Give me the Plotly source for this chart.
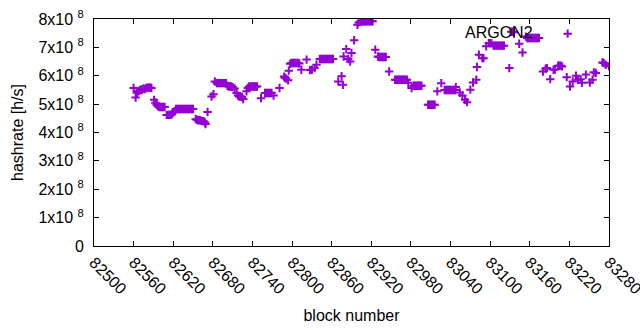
import plotly.graph_objects as go

# block numbers and hashrates (h/s)
blocks = [
    82560, 82563, 82565, 82567, 82569, 82571, 82573, 82575, 82577, 82579, 82581, 82583, 82585, 82587,
    82591, 82593, 82595, 82597, 82599, 82601, 82603, 82605, 82607,
    82610, 82612, 82614, 82616, 82618, 82620, 82622,
    82624, 82626, 82628, 82630, 82632, 82634, 82636, 82638, 82640, 82642, 82644, 82646, 82648, 82650,
    82654, 82656, 82658, 82660, 82662, 82664, 82666, 82668, 82669, 82672,
    82678, 82681, 82683, 82686, 82688, 82690, 82692, 82694, 82696, 82698, 82700,
    82702, 82704, 82706, 82708, 82710, 82713, 82716, 82718, 82720, 82722, 82724, 82726,
    82731, 82733, 82735, 82737, 82739, 82741, 82743, 82745, 82747,
    82753, 82759, 82761, 82763, 82765, 82767, 82769, 82772, 82781,
    82788, 82789, 82791, 82794, 82795,
    82797, 82799, 82801, 82803, 82805, 82807, 82809, 82811,
    82814, 82822, 82827, 82830, 82834, 82837,
    82842, 82844, 82846, 82848, 82850, 82852, 82854, 82856, 82858, 82860, 82862,
    82870, 82875, 82877, 82878, 82882, 82885, 82888, 82890, 82894, 82899, 82901,
    82904, 82906, 82908, 82910, 82912, 82914, 82916, 82918, 82920, 82922,
    82926, 82930, 82932, 82934, 82936, 82938, 82940, 82942,
    82947, 82956, 82958, 82960, 82962, 82964, 82966, 82968, 82970, 82972, 82974,
    82976, 82981, 82984, 82986, 82988, 82990, 82992, 82994, 82996,
    83006, 83008, 83010, 83012, 83014, 83016,
    83020, 83026, 83031, 83033, 83035, 83037, 83039, 83041, 83043, 83045, 83047,
    83048, 83054, 83058, 83062, 83065, 83070, 83074, 83079, 83080, 83083,
    83088, 83090, 83094, 83098, 83100, 83102,
    83105, 83107, 83109, 83111, 83113, 83115, 83117, 83119, 83121,
    83129, 83132, 83134, 83136, 83144, 83149, 83154,
    83156, 83158, 83160, 83162, 83164, 83166, 83168, 83170, 83172, 83174,
    83180, 83184, 83186, 83191, 83196, 83198, 83203, 83205, 83207, 83209,
    83216, 83221, 83225, 83230, 83233, 83237, 83239, 83245, 83251, 83255, 83257, 83260,
    83270, 83272, 83275, 83280,
]

hashrate = [
    5.57e8, 5.23e8, 5.40e8, 5.45e8, 5.48e8, 5.52e8, 5.50e8, 5.55e8, 5.53e8, 5.57e8, 5.58e8, 5.58e8, 5.58e8, 5.57e8,
    5.15e8, 5.05e8, 4.97e8, 4.92e8, 4.90e8, 4.90e8, 4.90e8, 4.90e8, 4.90e8,
    4.62e8, 4.62e8, 4.62e8, 4.62e8, 4.65e8, 4.70e8, 4.75e8,
    4.83e8, 4.83e8, 4.83e8, 4.83e8, 4.83e8, 4.83e8, 4.83e8, 4.83e8, 4.83e8, 4.83e8, 4.83e8, 4.83e8, 4.83e8, 4.83e8,
    4.47e8, 4.45e8, 4.43e8, 4.43e8, 4.42e8, 4.40e8, 4.40e8, 4.35e8, 4.30e8, 4.72e8,
    5.27e8, 5.35e8, 5.80e8, 5.74e8, 5.74e8, 5.74e8, 5.74e8, 5.74e8, 5.74e8, 5.74e8, 5.74e8,
    5.65e8, 5.62e8, 5.62e8, 5.62e8, 5.60e8, 5.55e8, 5.39e8, 5.30e8, 5.27e8, 5.27e8, 5.25e8, 5.18e8,
    5.45e8, 5.57e8, 5.62e8, 5.62e8, 5.62e8, 5.62e8, 5.62e8, 5.62e8, 5.62e8,
    5.21e8, 5.39e8, 5.39e8, 5.39e8, 5.39e8, 5.39e8, 5.39e8, 5.30e8, 5.57e8,
    5.97e8, 5.93e8, 5.90e8, 5.84e8, 6.18e8,
    6.42e8, 6.45e8, 6.45e8, 6.45e8, 6.45e8, 6.45e8, 6.45e8, 6.43e8,
    6.21e8, 6.57e8, 6.20e8, 6.21e8, 6.27e8, 6.39e8,
    6.59e8, 6.59e8, 6.59e8, 6.59e8, 6.59e8, 6.59e8, 6.59e8, 6.59e8, 6.59e8, 6.59e8, 6.59e8,
    5.80e8, 5.98e8, 5.68e8, 6.68e8, 6.94e8, 6.59e8, 6.50e8, 6.80e8, 7.25e8, 7.80e8, 7.88e8,
    7.92e8, 7.92e8, 7.92e8, 7.92e8, 7.92e8, 7.92e8, 7.92e8, 7.92e8, 7.92e8, 7.92e8,
    6.92e8, 6.68e8, 6.66e8, 6.66e8, 6.66e8, 6.66e8, 6.66e8, 6.66e8,
    6.15e8, 5.86e8, 5.86e8, 5.86e8, 5.86e8, 5.86e8, 5.86e8, 5.86e8, 5.86e8, 5.86e8, 5.86e8,
    5.75e8, 5.57e8, 5.65e8, 5.65e8, 5.65e8, 5.65e8, 5.65e8, 5.65e8, 5.65e8,
    4.98e8, 4.98e8, 4.98e8, 4.98e8, 4.98e8, 4.98e8,
    5.45e8, 5.74e8, 5.50e8, 5.50e8, 5.50e8, 5.50e8, 5.50e8, 5.50e8, 5.50e8, 5.50e8, 5.50e8,
    5.60e8, 5.41e8, 5.30e8, 5.15e8, 5.07e8, 5.51e8, 5.76e8, 5.86e8, 6.31e8, 6.74e8,
    6.62e8, 6.62e8, 7.04e8, 7.15e8, 7.15e8, 7.14e8,
    7.06e8, 7.06e8, 7.06e8, 7.06e8, 7.06e8, 7.06e8, 7.06e8, 7.06e8, 7.06e8,
    6.27e8, 7.55e8, 7.55e8, 7.53e8, 7.13e8, 6.82e8, 7.38e8,
    7.33e8, 7.33e8, 7.33e8, 7.33e8, 7.33e8, 7.33e8, 7.33e8, 7.33e8, 7.33e8, 7.33e8,
    6.15e8, 6.25e8, 6.27e8, 5.88e8, 6.21e8, 6.22e8, 6.35e8, 6.35e8, 6.35e8, 6.33e8,
    5.95e8, 5.62e8, 5.80e8, 6.00e8, 5.86e8, 5.88e8, 5.75e8, 6.04e8, 5.76e8, 5.86e8, 6.12e8, 6.10e8,
    6.47e8, 6.45e8, 6.39e8, 6.33e8,
]

x_ticks = [82500, 82560, 82620, 82680, 82740, 82800, 82860, 82920, 82980, 83040, 83100, 83160, 83220, 83280]
y_ticks = [0, 1e8, 2e8, 3e8, 4e8, 5e8, 6e8, 7e8, 8e8]
y_ticktext = ["0"] + [f"{i}x10 <sup>8</sup>" for i in range(1, 9)]

PURPLE = "#9400D3"
FONT = "Liberation Sans, Arial, sans-serif"
FS = 16

fig = go.Figure()
fig.add_trace(go.Scatter(
    x=blocks, y=hashrate, mode="markers", name=" ",
    marker=dict(symbol="cross-thin", size=6, line=dict(width=2, color=PURPLE), color=PURPLE),
    showlegend=True,
))

axis_common = dict(
    showgrid=False, zeroline=False, showline=True, linecolor="black", linewidth=1,
    mirror="ticks", ticks="inside", ticklen=5, tickcolor="black", tickwidth=1,
    tickfont=dict(family=FONT, size=FS, color="black"),
    ticklabeloverflow="allow",
)

fig.update_xaxes(
    range=[82500, 83280], tickvals=x_ticks, ticktext=[str(v) for v in x_ticks],
    tickangle=45, title=dict(text="block number", font=dict(family=FONT, size=FS, color="black"), standoff=13),
    **axis_common,
)
fig.update_yaxes(
    range=[0, 8e8], tickvals=y_ticks, ticktext=y_ticktext,
    title=dict(text="hashrate [h/s]", font=dict(family=FONT, size=FS, color="black"), standoff=10),
    ticklabelstandoff=6,
    **axis_common,
)

fig.update_layout(
    width=640, height=330,
    margin=dict(l=94, r=31, t=19, b=84, autoexpand=False),
    paper_bgcolor="white", plot_bgcolor="white",
    font=dict(family=FONT, size=FS, color="black"),
    showlegend=True,
    legend=dict(
        x=0.7165, xanchor="left", y=1.01, yanchor="top",
        itemwidth=44,
        bgcolor="rgba(0,0,0,0)", borderwidth=0,
        title=dict(text="ARGON2", side="left", font=dict(family=FONT, size=FS, color="black")),
        font=dict(family=FONT, size=FS, color="black"),
    ),
)

fig.write_html("out.html", config={"displayModeBar": False},
               post_script="document.body.style.margin='0';document.body.style.padding='0';")
